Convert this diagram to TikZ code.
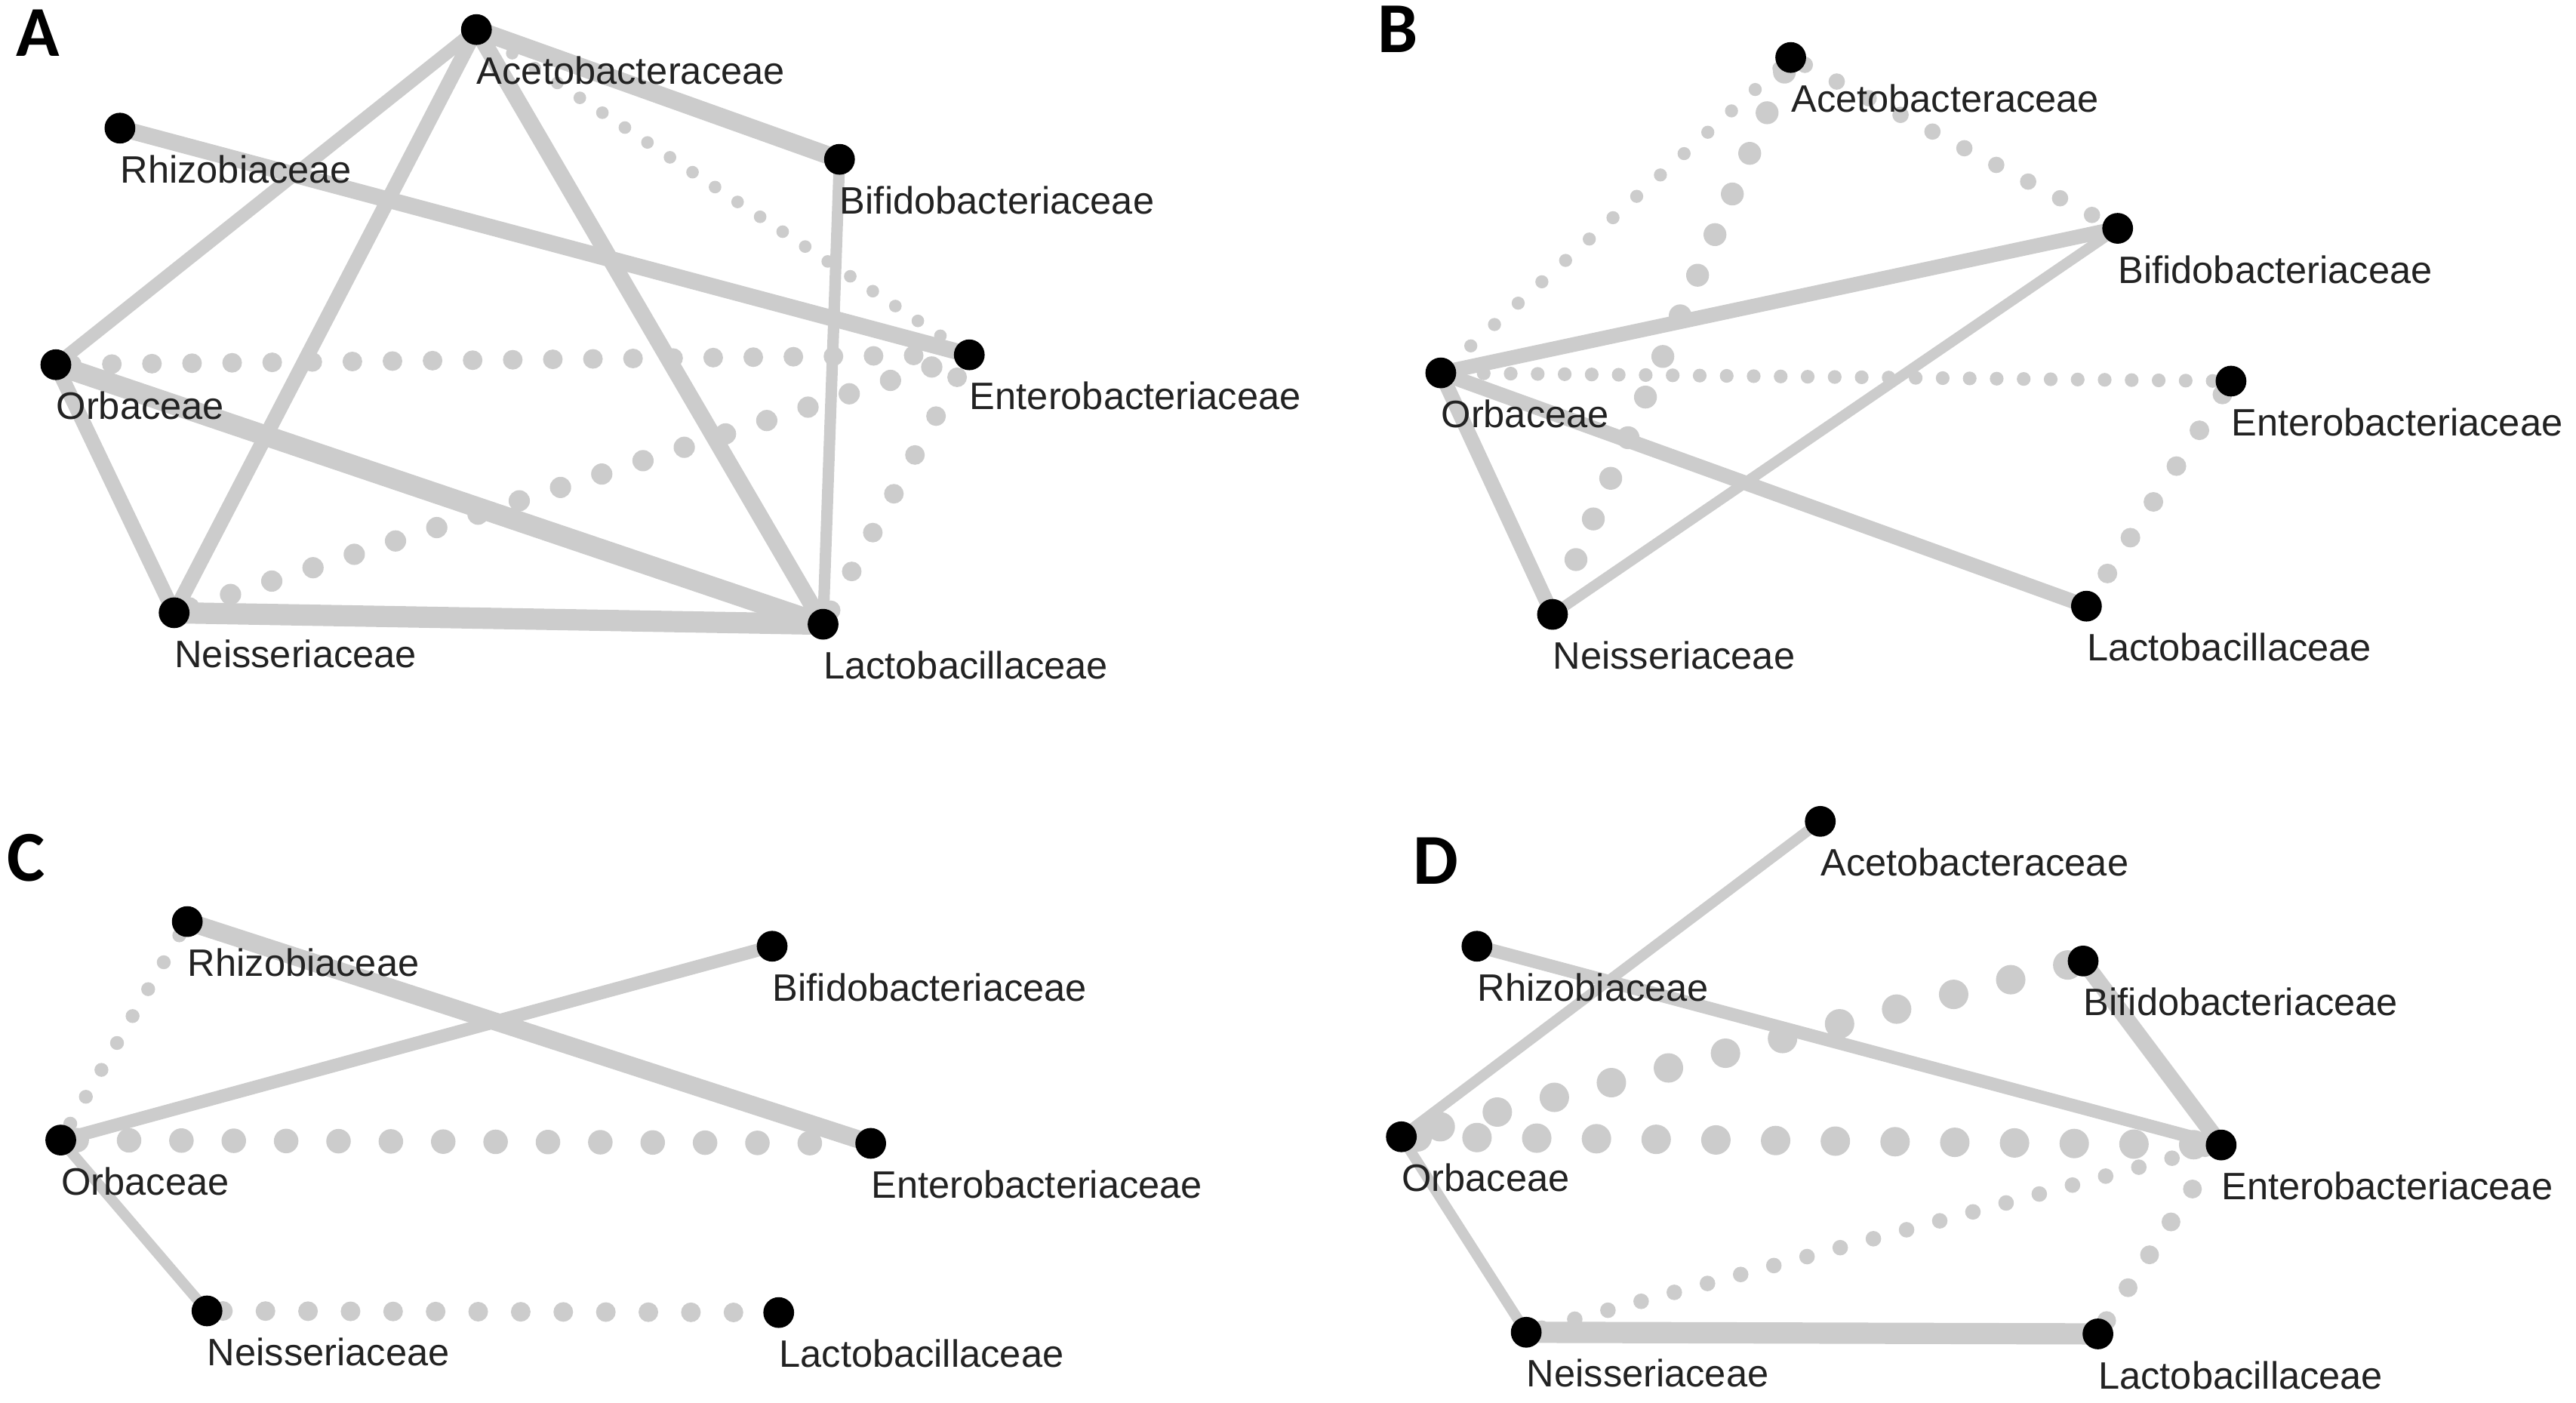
\documentclass[tikz,border=0pt]{standalone}
\usepackage{fontspec}
\setmainfont{Liberation Sans}
\newfontfamily\carlito{Carlito}
\usetikzlibrary{backgrounds}
\definecolor{tiegray}{RGB}{204,204,204}
\definecolor{inkgray}{RGB}{34,34,34}
\tikzset{
  taxon/.style={circle, fill=black, inner sep=0pt, minimum size=11.6pt},
  tag/.style={font=\fontsize{14.4}{16}\selectfont, text=inkgray, anchor=west, inner sep=0pt, yshift=-9.5pt},
  panel/.style={font=\carlito\bfseries\fontsize{27}{28}\selectfont, inner sep=0pt},
  tie/.code={\pgfmathsetmacro\tiew{#1*0.6171}\tikzset{draw=tiegray, line width=\tiew pt}},
  spots/.code 2 args={\pgfmathsetmacro\dotw{#1*0.6171}\pgfmathsetmacro\dotgap{#2*0.6171}%
    \tikzset{draw=tiegray, line width=\dotw pt, line cap=round, dash pattern=on 0pt off \dotgap pt}}
}

\begin{document}
\begin{tikzpicture}[x=0.021767cm, y=-0.021767cm]
\useasboundingbox (0,0) rectangle (1568,854);

% panel A
\node[panel] (letA) at (23,20) {A};
\node[taxon, label={[tag]-90:Acetobacteraceae}] (aceA) at (290,18) {};
\node[taxon, label={[tag]-90:Rhizobiaceae}] (rhiA) at (73,78) {};
\node[taxon, label={[tag]-90:Bifidobacteriaceae}] (bifA) at (511,97) {};
\node[taxon, label={[tag]-90:Orbaceae}] (orbA) at (34,222) {};
\node[taxon, label={[tag]-90:Enterobacteriaceae}] (entA) at (590,216) {};
\node[taxon, label={[tag]-90:Neisseriaceae}] (neiA) at (106,373) {};
\node[taxon, label={[tag]-90:Lactobacillaceae}] (lacA) at (501,380) {};

% panel B
\node[panel] (letB) at (851,18) {B};
\node[taxon, label={[tag]-90:Acetobacteraceae}] (aceB) at (1090,35) {};
\node[taxon, label={[tag]-90:Bifidobacteriaceae}] (bifB) at (1289,139) {};
\node[taxon, label={[tag]-90:Orbaceae}] (orbB) at (877,227) {};
\node[taxon, label={[tag]-90:Enterobacteriaceae}] (entB) at (1358,232) {};
\node[taxon, label={[tag]-90:Neisseriaceae}] (neiB) at (945,374) {};
\node[taxon, label={[tag]-90:Lactobacillaceae}] (lacB) at (1270,369) {};

% panel C
\node[panel] (letC) at (16,522) {C};
\node[taxon, label={[tag]-90:Rhizobiaceae}] (rhiC) at (114,561) {};
\node[taxon, label={[tag]-90:Bifidobacteriaceae}] (bifC) at (470,576) {};
\node[taxon, label={[tag]-90:Orbaceae}] (orbC) at (37,694) {};
\node[taxon, label={[tag]-90:Enterobacteriaceae}] (entC) at (530,696) {};
\node[taxon, label={[tag]-90:Neisseriaceae}] (neiC) at (126,798) {};
\node[taxon, label={[tag]-90:Lactobacillaceae}] (lacC) at (474,799) {};

% panel D
\node[panel] (letD) at (874,524) {D};
\node[taxon, label={[tag]-90:Acetobacteraceae}] (aceD) at (1108,500) {};
\node[taxon, label={[tag]-90:Rhizobiaceae}] (rhiD) at (899,576) {};
\node[taxon, label={[tag]-90:Bifidobacteriaceae}] (bifD) at (1268,585) {};
\node[taxon, label={[tag]-90:Orbaceae}] (orbD) at (853,692) {};
\node[taxon, label={[tag]-90:Enterobacteriaceae}] (entD) at (1352,697) {};
\node[taxon, label={[tag]-90:Neisseriaceae}] (neiD) at (929,811) {};
\node[taxon, label={[tag]-90:Lactobacillaceae}] (lacD) at (1277,812) {};

\begin{pgfonlayer}{background}
  % edges A
  \draw[tie=11] (aceA.center) -- (bifA.center);
  \draw[tie=8] (aceA.center) -- (orbA.center);
  \draw[tie=9] (aceA.center) -- (neiA.center);
  \draw[tie=10] (aceA.center) -- (lacA.center);
  \draw[tie=10] (rhiA.center) -- (entA.center);
  \draw[tie=7] (bifA.center) -- (lacA.center);
  \draw[tie=12.5] (orbA.center) -- (lacA.center);
  \draw[tie=9] (orbA.center) -- (neiA.center);
  \draw[tie=13] (neiA.center) -- (lacA.center);
  \draw[spots={7.7}{16.5}] (aceA) -- (entA);
  \draw[spots={12}{24.5}] (orbA) -- (entA);
  \draw[spots={13}{26.5}] (neiA) -- (entA);
  \draw[spots={12}{27}] (lacA) -- (entA);
  % edges B
  \draw[tie=9] (bifB.center) -- (orbB.center);
  \draw[tie=6.5] (bifB.center) -- (neiB.center);
  \draw[tie=9] (orbB.center) -- (lacB.center);
  \draw[tie=9] (orbB.center) -- (neiB.center);
  \draw[spots={10}{22}] (aceB) -- (bifB);
  \draw[spots={8}{19.5}] (aceB) -- (orbB);
  \draw[spots={14}{27}] (aceB) -- (neiB);
  \draw[spots={8.4}{16.5}] (orbB) -- (entB);
  \draw[spots={12}{26}] (entB) -- (lacB);
  % edges C
  \draw[tie=11] (rhiC.center) -- (entC.center);
  \draw[tie=8] (orbC.center) -- (bifC.center);
  \draw[tie=6.5] (orbC.center) -- (neiC.center);
  \draw[spots={8.5}{19}] (rhiC) -- (orbC);
  \draw[spots={15}{32}] (orbC) -- (entC);
  \draw[spots={12}{26}] (neiC) -- (lacC);
  % edges D
  \draw[tie=6.5] (aceD.center) -- (orbD.center);
  \draw[tie=8] (rhiD.center) -- (entD.center);
  \draw[tie=10] (bifD.center) -- (entD.center);
  \draw[tie=6.5] (orbD.center) -- (neiD.center);
  \draw[tie=13] (neiD.center) -- (lacD.center);
  \draw[spots={18}{36}] (bifD) -- (orbD);
  \draw[spots={18}{36.5}] (orbD) -- (entD);
  \draw[spots={9.5}{21}] (neiD) -- (entD);
  \draw[spots={11.5}{24}] (lacD) -- (entD);
\end{pgfonlayer}
\end{tikzpicture}
\end{document}
